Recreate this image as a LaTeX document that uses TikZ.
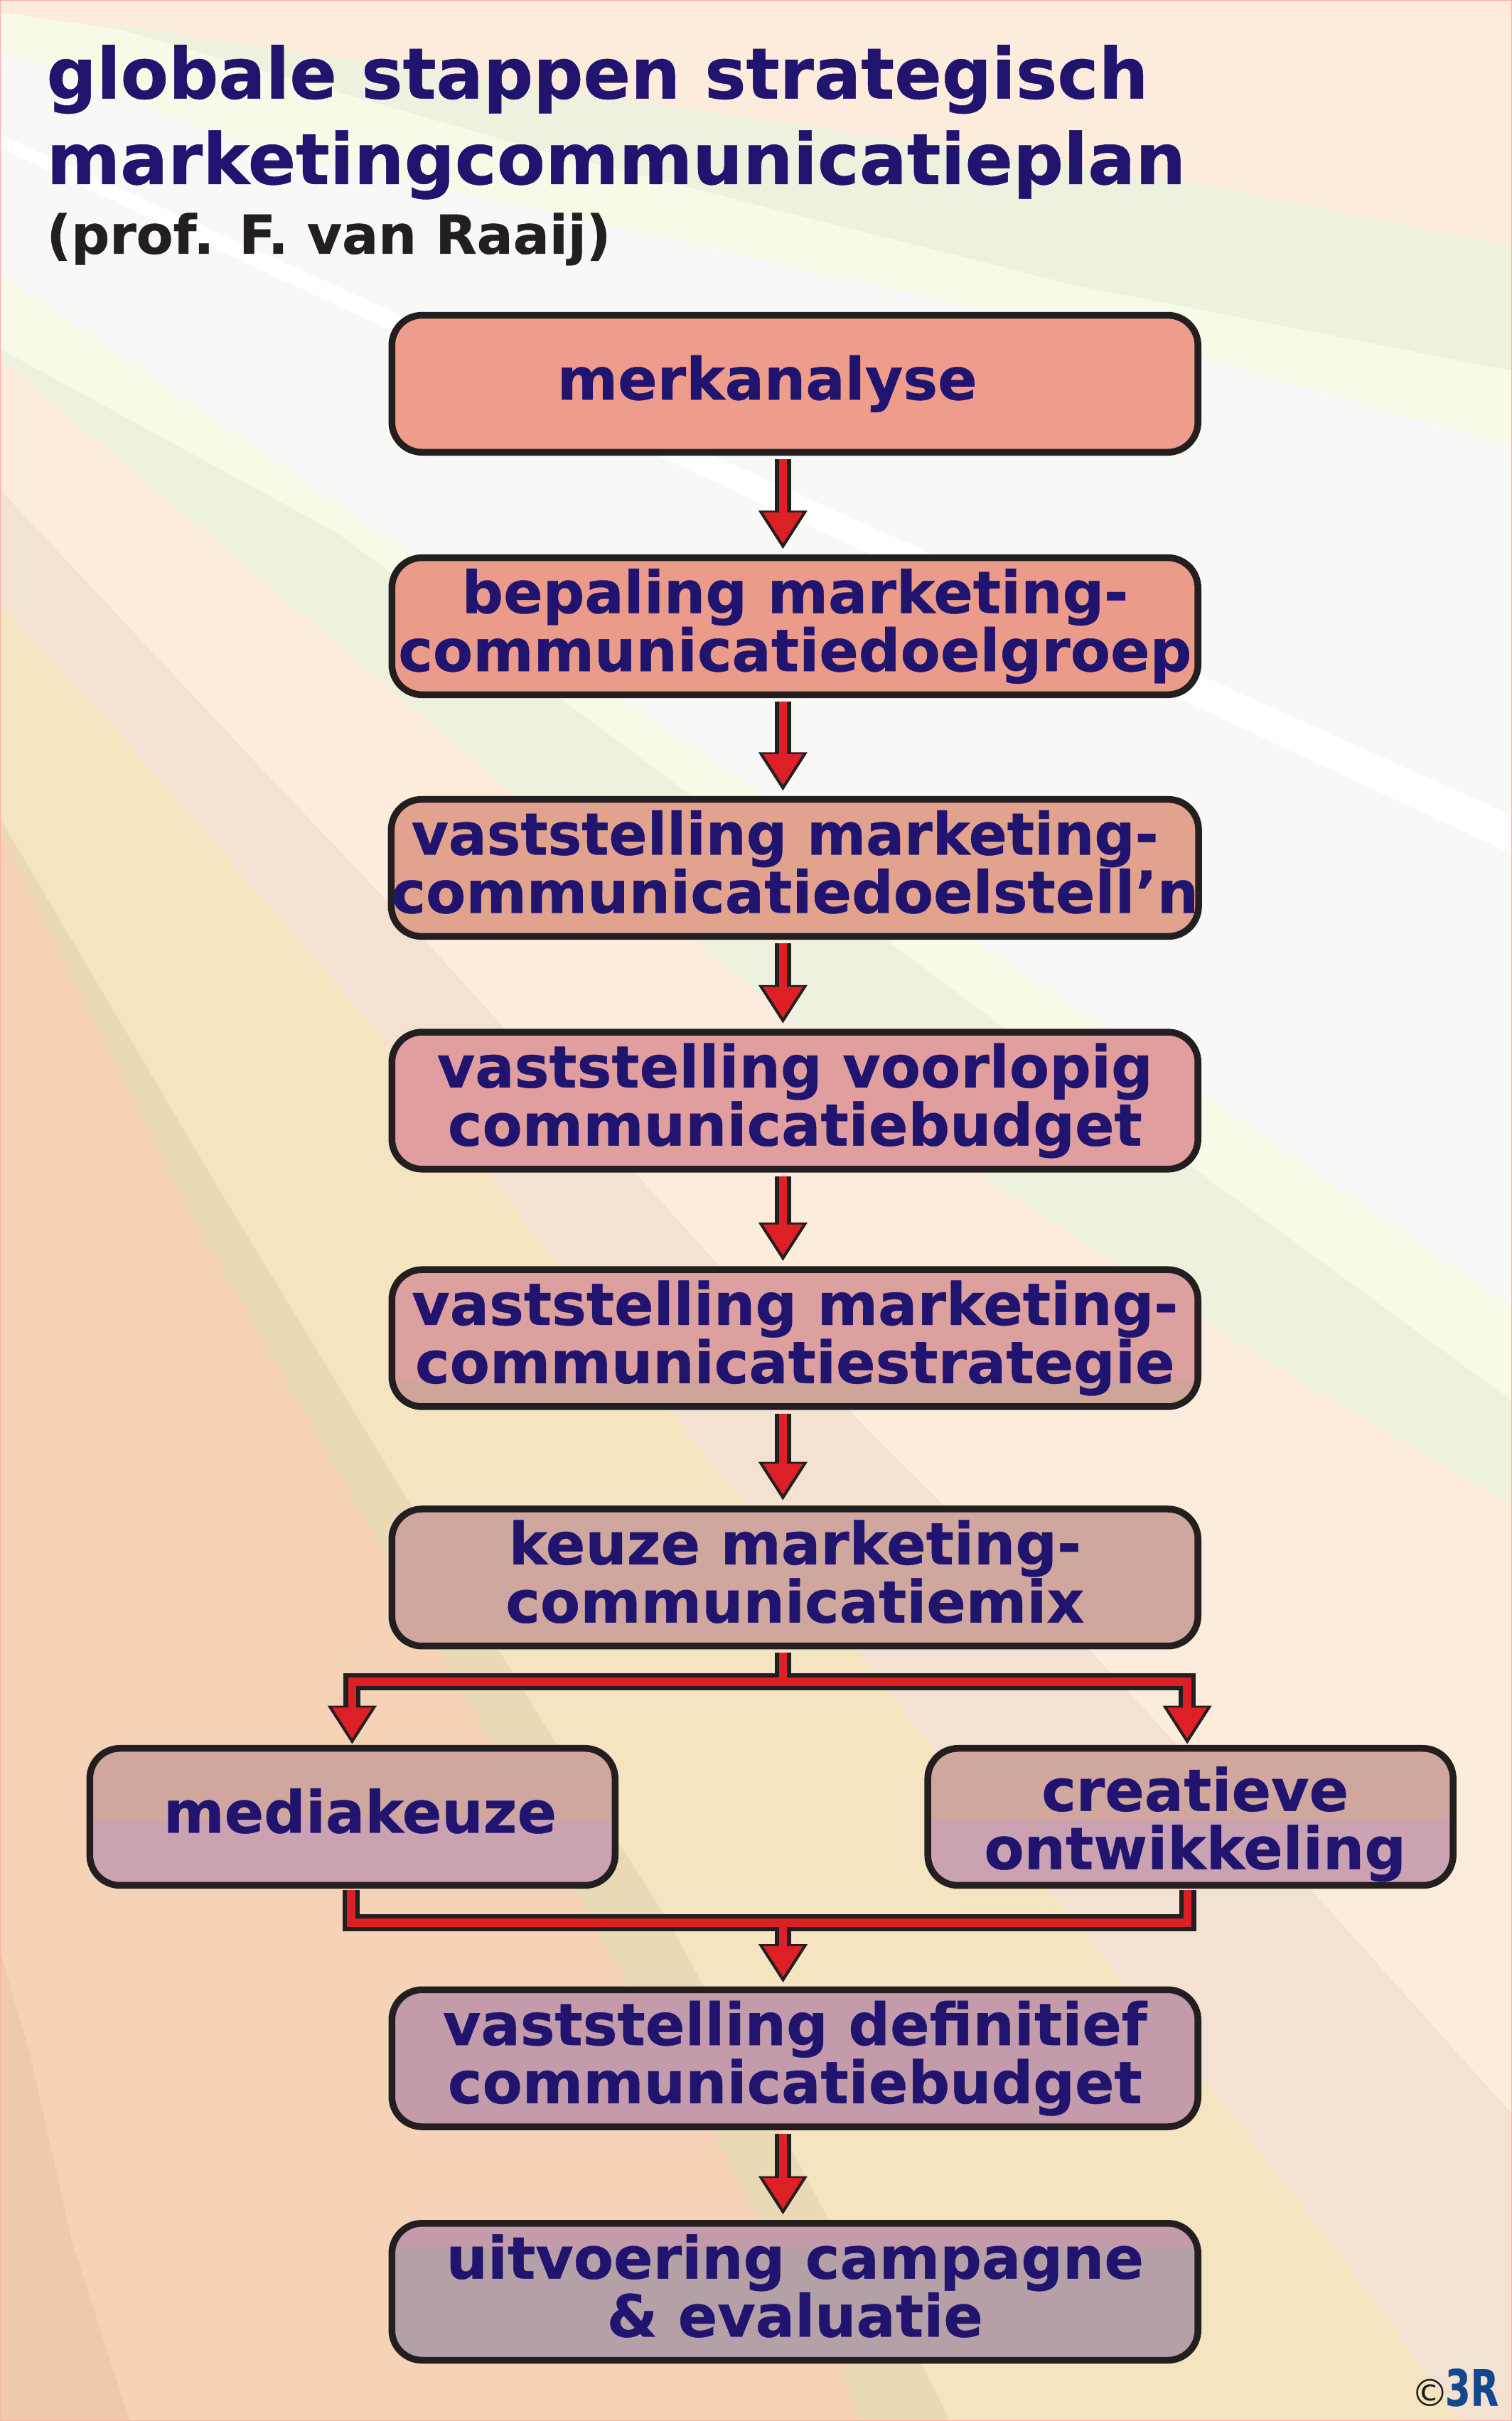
\documentclass[tikz,border=0pt]{standalone}
\usepackage{fontspec}
\setmainfont{DejaVu Sans}[BoldFeatures={FakeBold=0.5}]
\usetikzlibrary{arrows.meta}
\definecolor{inkt}{HTML}{21146F}
\definecolor{zwart}{HTML}{231F20}
\definecolor{rood}{HTML}{DD1F26}
\definecolor{grond}{HTML}{FDEBDC}
\definecolor{wit}{HTML}{F8F8F7}
\definecolor{groen}{HTML}{EFF1DF}
\definecolor{bleek}{HTML}{F8FAE8}
\definecolor{taupe}{HTML}{F3E1D1}
\definecolor{geel}{HTML}{F4E4BF}
\definecolor{geeldonker}{HTML}{E9DAB5}
\definecolor{oranje}{HTML}{F6D3B6}
\definecolor{oranjedonker}{HTML}{EEC9AC}
\definecolor{vakonder}{HTML}{CAA2B2}
\definecolor{vaktan}{HTML}{CFA59A}
\definecolor{vakgrijs}{HTML}{B5A0A8}
\newcommand\diep{\rule[-10pt]{0pt}{1pt}}
\tikzset{
	vak/.style={draw=zwart,line width=5.4pt,rounded corners=.85cm,minimum width=22.65cm,minimum height=3.85cm,inner sep=0pt,
		text=inkt,align=center,font=\fontsize{46.6}{46.5}\selectfont\bfseries},
	onderband/.style 2 args={path picture={\fill[#1,sharp corners] ([yshift=#2]path picture bounding box.west) rectangle (path picture bounding box.south east);}},
	zijvak/.style={vak,minimum width=14.76cm,fill={rgb,255:red,207;green,167;blue,158},onderband={vakonder}{-1mm}},
	titel/.style={anchor=base west,inner sep=0pt,text=inkt,font=\fontsize{56.5}{56.5}\selectfont\bfseries},
	pijlzwart/.style={draw=zwart,line width=13.5pt,-{Triangle[length=31pt,width=37pt,fill=zwart]}},
	pijlrood/.style={draw=rood,line width=6.5pt,shorten >=4.5pt,-{Triangle[length=25pt,width=30pt,fill=rood]}},
	lijnzwart/.style={draw=zwart,line width=13.5pt},
	lijnrood/.style={draw=rood,line width=6.5pt},
}
\begin{document}
\begin{tikzpicture}[x=.0434cm,y=-.0434cm]
	\useasboundingbox (0,0) rectangle (979,1567.7);
	% achtergrond
	\fill[grond] (0,0) rectangle (979,1567.7);
	\fill[bleek] (0,8)--(771,118)--(979,159)--(979,289)--(771,230)--(156,93)--(0,31)--cycle;
	\fill[groen] (60,14)--(771,118)--(979,159)--(979,240)--(693,184)--(342,95)--cycle;
	\fill[wit] (0,31)--(156,93)--(771,230)--(979,289)--(979,846)--(0,177)--cycle;
	\fill[bleek] (0,177)--(979,846)--(979,975)--(0,232)--cycle;
	\fill[groen] (0,226)--(218,345)--(771,755)--(958,892)--(979,907)--(979,975)--(818,880)--(640,765)--(302,488)--(0,232)--cycle;
	\fill[white] (0,87)--(979,528)--(979,553)--(0,96)--cycle;
	\fill[taupe] (0,317)--(164,492)--(286,621)--(560,924)--(706,1069)--(851,1226)--(979,1369)--(979,1567.7)--(0,1567.7)--cycle;
	\fill[geel] (0,392)--(89,488)--(246,670)--(578,1099)--(703,1254)--(802,1375)--(897,1500)--(945,1567.7)--(0,1567.7)--cycle;
	\fill[geeldonker] (0,530)--(140,767)--(339,1095)--(435,1248)--(537,1438)--(597,1531)--(615,1567.7)--(0,1567.7)--cycle;
	\fill[oranje] (0,535)--(113,767)--(296,1089)--(373,1226)--(467,1391)--(544,1531)--(556,1567.7)--(0,1567.7)--cycle;
	\fill[oranjedonker] (0,1263)--(19,1329)--(47,1453)--(84,1567.7)--(0,1567.7)--cycle;
	\draw[line width=1.5pt,color=red!25!grond] (0,0) rectangle (979,1567.7);
	% titel
	\node (titelA) [titel] at (30,63.8) {\scalebox{.988}[1]{globale stappen strategisch}};
	\node (titelB) [titel] at (30,119.2) {marketingcommunicatieplan};
	\node (prof) [titel,text=zwart,font=\fontsize{43}{43}\selectfont\bfseries] at (30,164.3) {(prof. F. van Raaij)};
	% vakken
	\node (merk) [vak,fill={rgb,255:red,238;green,156;blue,140}] at (514.7,248.5) {merkanalyse\hspace*{1.56cm}};
	\node (doelgroep) [vak,fill={rgb,255:red,234;green,155;blue,138}] at (514.7,405.5) {bepaling marketing-\\communicatiedoelgroep};
	\node (doelstelling) [vak,fill={rgb,255:red,225;green,162;blue,142}] at (514.7,562) {\scalebox{.975}[1]{vaststelling marketing-}\hspace*{.56cm}\\communicatiedoelstell’n\diep};
	\node (voorlopig) [vak,fill={rgb,255:red,224;green,158;blue,158}] at (514.7,712.7) {vaststelling voorlopig\\communicatiebudget};
	\node (strategie) [vak,fill={rgb,255:red,220;green,160;blue,158},onderband={vaktan}{-1.19cm}] at (514.7,866.5) {vaststelling marketing-\\communicatiestrategie};
	\node (mix) [vak,fill={rgb,255:red,207;green,167;blue,158}] at (514.7,1021.5) {keuze marketing-\\communicatiemix\diep};
	\node (media) [zijvak] at (228.2,1176.5) {\hspace*{.43cm}mediakeuze\diep};
	\node (creatief) [zijvak] at (770.8,1176.5) {\rule{0pt}{47pt}\hspace*{.26cm}creatieve\\\hspace*{.26cm}ontwikkeling};
	\node (definitief) [vak,fill={rgb,255:red,195;green,155;blue,171}] at (514.7,1332.8) {vaststelling definitief\\communicatiebudget};
	\node (uitvoering) [vak,fill={rgb,255:red,195;green,155;blue,171},onderband={vakgrijs}{1.2cm}] at (514.7,1484) {uitvoering campagne\\\& evaluatie\diep};
	% 3R
	\node (copy) [inner sep=0pt,text=zwart,font=\fontsize{30}{30}\selectfont] at (926,1549.5) {©};
	\node (drieR) [inner sep=0pt,text={rgb,255:red,19;green,71;blue,143},font=\fontsize{40}{40}\selectfont\bfseries,xscale=.73,transform shape] at (953,1546) {3R};
	% pijlen
	\coordinate (mixuit) at (507,1070);
	\coordinate (splits) at (507,1089);
	\coordinate (mediaboven) at (228,1129.6);
	\coordinate (creatiefboven) at (768.7,1129.6);
	\coordinate (mediauit) at (227.3,1224);
	\coordinate (creatiefuit) at (769,1224);
	\coordinate (samen) at (507,1245);
	\coordinate (definitiefboven) at (507,1284);
	\foreach \laag/\lijn in {pijlzwart/lijnzwart,pijlrood/lijnrood}{
		\foreach \van/\naar in {merk/doelgroep,doelgroep/doelstelling,doelstelling/voorlopig,voorlopig/strategie,strategie/mix,definitief/uitvoering}
			\draw[\laag,shorten <=1mm] ([xshift=-3.37mm]\van.south) -- ([xshift=-3.37mm,yshift=1.4mm]\naar.north);
		\draw[\lijn] (mixuit) -- (splits);
		\draw[\laag] (splits) -| (mediaboven);
		\draw[\laag] (splits) -| (creatiefboven);
		\draw[\lijn] (mediauit) |- (samen);
		\draw[\lijn] (creatiefuit) |- (samen);
		\draw[\laag] (samen) -- (definitiefboven);
	}
\end{tikzpicture}
\end{document}
